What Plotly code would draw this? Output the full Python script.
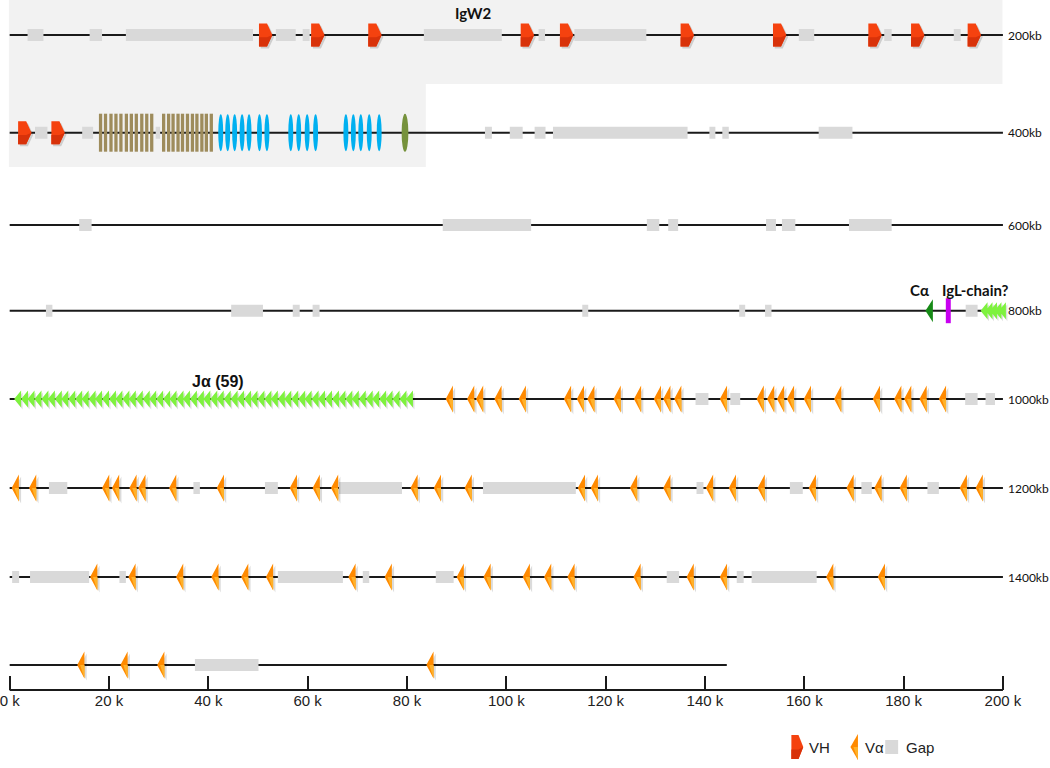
import plotly.graph_objects as go

# ---- data: positions in kb inside each 200 kb row ----
ROW_LABELS = ["200kb", "400kb", "600kb", "800kb", "1000kb", "1200kb", "1400kb", ""]
ROW_ENDS = [200, 200, 200, 200, 200, 200, 200, 144.4]

GAPS_200 = [(3.6, 6.8), (16.1, 18.6), (23.4, 49.0), (53.6, 57.6), (59.0, 60.4), (83.4, 99.1),
            (106.5, 107.8), (113.7, 128.2), (158.9, 162.0), (176.1, 177.6), (190.1, 191.5)]
GAPS_400 = [(5.1, 7.6), (14.6, 16.8), (29.4, 30.3), (95.7, 97.1), (100.7, 103.3), (105.7, 107.9),
            (109.4, 136.5), (140.9, 142.1), (143.5, 144.8), (162.9, 169.7)]
GAPS_600 = [(14.0, 16.5), (87.2, 105.0), (128.3, 130.8), (132.6, 134.6), (152.3, 154.3),
            (155.5, 158.2), (169.0, 177.6)]
GAPS_800 = [(7.3, 8.6), (44.6, 51.0), (57.0, 58.4), (61.0, 62.4), (115.3, 116.5), (146.9, 148.1),
            (152.1, 153.4), (192.5, 194.9)]
GAPS_1000 = [(138.1, 140.7), (145.1, 147.1), (192.4, 194.9), (196.5, 198.4)]
GAPS_1200 = [(7.9, 11.6), (37.0, 38.3), (51.4, 54.0), (66.3, 79.0), (95.3, 114.0), (138.3, 139.7),
             (157.1, 159.7), (171.5, 173.6), (184.8, 187.1)]
GAPS_1400 = [(0.5, 1.9), (4.1, 16.0), (22.1, 23.4), (54.0, 67.1), (71.1, 72.4), (85.8, 89.4),
             (132.3, 134.8), (146.4, 147.8), (149.4, 162.5)]
GAPS_1600 = [(37.3, 50.1)]

VH_200 = [50.2, 60.7, 72.2, 102.9, 110.8, 135.1, 153.7, 172.9, 181.5, 192.9]
VH_400 = [1.7, 8.4]

VA_1000 = [87.8, 92.1, 93.9, 97.6, 102.5, 111.6, 114.2, 116.3, 121.6, 125.7, 129.7, 131.6, 133.8,
           143.0, 150.4, 152.5, 154.5, 156.5, 159.9, 166.0, 173.8, 178.1, 180.1, 183.2, 187.1]
VA_1200 = [0.4, 3.9, 18.6, 20.6, 24.1, 25.9, 32.1, 41.7, 56.4, 61.0, 64.7, 80.7, 85.4, 91.6,
           114.4, 117.0, 124.9, 131.6, 140.2, 144.8, 150.6, 160.9, 168.5, 174.1, 179.2, 191.3, 194.5]
VA_1400 = [16.2, 23.9, 33.5, 40.6, 46.6, 51.6, 68.2, 75.5, 90.0, 95.4, 103.3, 107.6, 112.3, 125.6,
           136.3, 143.0, 164.4, 174.8]
VA_1600 = [13.6, 22.3, 29.7, 83.9]

JA_1000 = [1.6, 3.0, 4.3, 5.7, 7.1, 8.4, 9.8, 11.1, 12.5, 13.9, 15.2, 16.6, 17.9, 19.3, 20.7,
           22.0, 23.4, 24.7, 26.1, 27.5, 28.8, 30.2, 31.6, 32.9, 34.3, 35.6, 37.0, 38.4, 39.7,
           41.1, 42.4, 43.8, 45.2, 46.5, 47.9, 49.2, 50.6, 52.0, 53.3, 54.7, 56.0, 57.4, 58.8,
           60.1, 61.5, 62.8, 64.2, 65.6, 66.9, 68.3, 69.6, 71.0, 72.4, 73.7, 75.1, 76.4, 77.8,
           79.2, 80.5]
JA_800 = [196.2, 197.2, 198.1, 199.0, 199.9]

CA_800 = [184.4]
IGL_800 = [189.0]

BROWN_400 = [18.3, 19.3, 20.4, 21.4, 22.4, 23.5, 24.5, 25.5, 26.6, 27.6, 28.6,
             31.0, 32.0, 32.9, 33.9, 34.8, 35.8, 36.8, 37.7, 38.7, 39.6, 40.6]
CYAN_400 = [42.5, 43.9, 45.3, 46.8, 48.2, 50.3, 51.8, 56.6, 58.2, 59.9, 61.6,
            67.7, 69.2, 70.7, 72.4, 74.4]
OLIVE_400 = [79.6]

GAPS = [GAPS_200, GAPS_400, GAPS_600, GAPS_800, GAPS_1000, GAPS_1200, GAPS_1400, GAPS_1600]
VH = {0: VH_200, 1: VH_400}
VA = {4: VA_1000, 5: VA_1200, 6: VA_1400, 7: VA_1600}
JA = {3: JA_800, 4: JA_1000}

# ---- layout constants (pixel y, kb x) ----
ROW_Y = [35, 132.7, 225, 310.7, 399, 488, 577, 665]
AXIS_Y = 690
X0, X1 = -4.7 / 4.99, (1050 - 4.7) / 4.99
CAL = "Lato, 'Open Sans', sans-serif"
NARROW = "'Liberation Sans Narrow', 'Arial Narrow', 'Liberation Sans', sans-serif"


def poly_trace(px, py, color):
    return go.Scatter(x=px, y=py, mode="lines", fill="toself", fillcolor=color,
                      line=dict(width=0), hoverinfo="skip", showlegend=False)


def tri_left(xs, y, w, h, dx=0.0, dy=0.0):
    px, py = [], []
    for x in xs:
        px += [x + dx, x + w + dx, x + w + dx, x + dx, None]
        py += [y + dy, y - h / 2 + dy, y + h / 2 + dy, y + dy, None]
    return px, py


def tri_left_light(xs, y, w, h):
    px, py = [], []
    for x in xs:
        px += [x + 0.4 * w, x + w, x + w, x + 0.4 * w, None]
        py += [y, y, y + h / 2, y, None]
    return px, py


def vh_shape(xs, y, w, h, dx=0.0, dy=0.0):
    px, py = [], []
    for x in xs:
        px += [x + dx, x + 0.6 * w + dx, x + w + dx, x + 0.6 * w + dx, x + dx, x + dx, None]
        py += [y - h / 2 + dy, y - h / 2 + dy, y + dy, y + h / 2 + dy, y + h / 2 + dy, y - h / 2 + dy, None]
    return px, py


def vh_dark(xs, y, w, h):
    px, py = [], []
    for x in xs:
        px += [x, x + 0.6 * w, x + w, x + 0.6 * w, x, x, None]
        py += [y + h * 0.1, y + h * 0.1, y, y + h / 2, y + h / 2, y + h * 0.1, None]
    return px, py


def rects(spans, y, h):
    px, py = [], []
    for a, b in spans:
        px += [a, b, b, a, a, None]
        py += [y - h / 2, y - h / 2, y + h / 2, y + h / 2, y - h / 2, None]
    return px, py


fig = go.Figure()

# row backbones
for i, end in enumerate(ROW_ENDS):
    fig.add_trace(go.Scatter(x=[0, end], y=[ROW_Y[i], ROW_Y[i]], mode="lines",
                             line=dict(color="#1a1a1a", width=2), hoverinfo="skip", showlegend=False))

# gaps
for i, spans in enumerate(GAPS):
    px, py = rects(spans, ROW_Y[i], 12)
    fig.add_trace(poly_trace(px, py, "#D9D9D9"))

# VH genes
for i, xs in VH.items():
    px, py = vh_shape(xs, ROW_Y[i], 2.7, 23, dx=0.35, dy=2)
    fig.add_trace(poly_trace(px, py, "rgba(0,0,0,0.15)"))
    px, py = vh_shape(xs, ROW_Y[i], 2.7, 23)
    fig.add_trace(poly_trace(px, py, "#F5420F"))
    px, py = vh_dark(xs, ROW_Y[i], 2.7, 23)
    fig.add_trace(poly_trace(px, py, "#D8320A"))

# Va genes
for i, xs in VA.items():
    px, py = tri_left(xs, ROW_Y[i], 1.45, 27, dx=0.45, dy=2)
    fig.add_trace(poly_trace(px, py, "rgba(0,0,0,0.14)"))
    px, py = tri_left(xs, ROW_Y[i], 1.45, 27)
    fig.add_trace(poly_trace(px, py, "#FF8A00"))
    px, py = tri_left_light(xs, ROW_Y[i], 1.45, 27)
    fig.add_trace(poly_trace(px, py, "#FFB22A"))

# Ja segments
for i, xs in JA.items():
    starts = [x - 0.7 for x in xs]
    px, py = tri_left(starts, ROW_Y[i], 1.4, 17, dx=0.3, dy=2)
    fig.add_trace(poly_trace(px, py, "rgba(0,0,0,0.13)"))
    px, py = tri_left(starts, ROW_Y[i], 1.4, 17)
    fig.add_trace(poly_trace(px, py, "#7EF23E"))

# C alpha and IgL
px, py = tri_left(CA_800, ROW_Y[3], 1.5, 23)
fig.add_trace(poly_trace(px, py, "#168A16"))
px, py = rects([(x - 0.5, x + 0.5) for x in IGL_800], ROW_Y[3], 25)
fig.add_trace(poly_trace(px, py, "#C800F0"))

shapes = []
# shaded IgW2 region
shapes.append(dict(type="path", xref="x", yref="y", layer="below", line=dict(width=0),
                   fillcolor="#F2F2F2",
                   path="M -0.15,0 L 199.9,0 L 199.9,84 L 83.8,84 L 83.8,167 L -0.15,167 Z"))
for x in BROWN_400:
    shapes.append(dict(type="rect", xref="x", yref="y", x0=x - 0.33, x1=x + 0.33,
                       y0=ROW_Y[1] - 19, y1=ROW_Y[1] + 19, fillcolor="#9E8C5C",
                       line=dict(width=0), layer="above"))
for x in CYAN_400:
    shapes.append(dict(type="circle", xref="x", yref="y", x0=x - 0.5, x1=x + 0.5,
                       y0=ROW_Y[1] - 18.5, y1=ROW_Y[1] + 18.5, fillcolor="#00B0F0",
                       line=dict(width=0), layer="above"))
for x in OLIVE_400:
    shapes.append(dict(type="circle", xref="x", yref="y", x0=x - 0.68, x1=x + 0.68,
                       y0=ROW_Y[1] - 19, y1=ROW_Y[1] + 19, fillcolor="#76923C",
                       line=dict(width=0), layer="above"))
# scale baseline
shapes.append(dict(type="line", xref="x", yref="y", x0=0, x1=200, y0=AXIS_Y, y1=AXIS_Y,
                   line=dict(color="#1a1a1a", width=2)))

# legend marks
px, py = vh_shape([157.4], 747, 2.4, 24)
fig.add_trace(poly_trace(px, py, "#F5420F"))
px, py = vh_dark([157.4], 747, 2.4, 24)
fig.add_trace(poly_trace(px, py, "#D8320A"))
px, py = tri_left([169.3], 747, 1.5, 26)
fig.add_trace(poly_trace(px, py, "#FF8A00"))
px, py = tri_left_light([169.3], 747, 1.5, 26)
fig.add_trace(poly_trace(px, py, "#FFB22A"))
px, py = rects([(176.3, 178.9)], 747, 14)
fig.add_trace(poly_trace(px, py, "#D9D9D9"))

annotations = []
for i, lab in enumerate(ROW_LABELS):
    if lab:
        annotations.append(dict(x=200.7, y=ROW_Y[i], text=lab, showarrow=False, xanchor="left",
                                yanchor="middle", font=dict(family=CAL, size=12, color="#111")))
for x, txt in [(160.6, "VH"), (171.9, "Vα"), (180.0, "Gap")]:
    annotations.append(dict(x=x, y=747, text=txt, showarrow=False, xanchor="left", yanchor="middle",
                            font=dict(family=NARROW, size=15, color="#222")))
annotations += [
    dict(x=93.2, y=13, text="<b>IgW2</b>", showarrow=False, font=dict(family=CAL, size=15, color="#111")),
    dict(x=41.9, y=381, text="<b>Jα (59)</b>", showarrow=False,
         font=dict(family="'Liberation Sans', Arial, sans-serif", size=16, color="#111")),
    dict(x=183.3, y=290, text="<b>Cα</b>", showarrow=False, font=dict(family=CAL, size=15, color="#111")),
    dict(x=187.4, y=290, text="<b>IgL-chain?</b>", showarrow=False, xanchor="left",
         font=dict(family=CAL, size=15, color="#111")),
]

fig.update_layout(
    width=1050, height=768,
    margin=dict(l=0, r=0, t=0, b=0),
    plot_bgcolor="white", paper_bgcolor="white",
    shapes=shapes, annotations=annotations,
    showlegend=False,
    xaxis=dict(range=[X0, X1], anchor="free", position=1 - AXIS_Y / 768, showline=False,
               showgrid=False, zeroline=False, ticks="inside", ticklen=14, tickwidth=1.5,
               tickcolor="#1a1a1a", tickvals=list(range(0, 201, 20)),
               ticktext=[f"{v} k" for v in range(0, 201, 20)], ticklabeloverflow="allow",
               tickfont=dict(family=NARROW, size=15, color="#222")),
    yaxis=dict(range=[768, 0], visible=False, domain=[0, 1]),
)

fig.write_html("out.html", config={"displayModeBar": False},
               post_script="document.body.style.margin='0px';")
